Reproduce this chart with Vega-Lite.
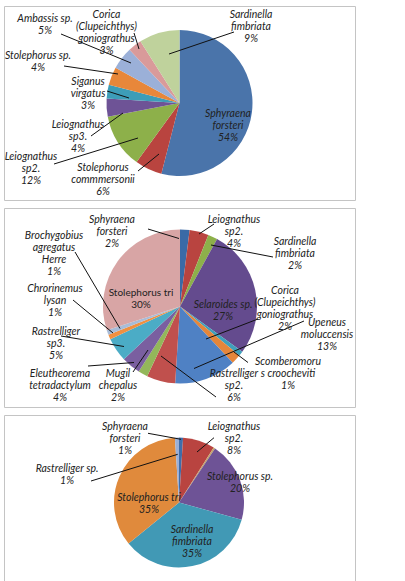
{
  "$schema": "https://vega.github.io/schema/vega-lite/v6.json",
  "background": "white",
  "padding": {"left": 3, "top": 5, "right": 0, "bottom": 0},
  "spacing": 8,
  "bounds": "flush",
  "config": {
    "view": {"stroke": "#c4c4c4", "strokeWidth": 1},
    "text": {"font": "Lato", "fontSize": 10.5, "fontStyle": "italic", "lineHeight": 12, "lineBreak": "\n", "color": "#222222", "baseline": "middle", "align": "center"},
    "rule": {"color": "#111111", "strokeWidth": 1}
  },
  "datasets": {
    "p1": [
      {"i": 1, "s": "Sphyraena forsteri", "v": 54},
      {"i": 2, "s": "Stolephorus commmersonii", "v": 6},
      {"i": 3, "s": "Leiognathus sp2.", "v": 12},
      {"i": 4, "s": "Leiognathus sp3.", "v": 4},
      {"i": 5, "s": "Siganus virgatus", "v": 3},
      {"i": 6, "s": "Stolephorus sp.", "v": 4},
      {"i": 7, "s": "Ambassis sp.", "v": 5},
      {"i": 8, "s": "Corica (Clupeichthys) goniograthus", "v": 3},
      {"i": 9, "s": "Sardinella fimbriata", "v": 9}
    ],
    "p1lab": [
      {"t": "Corica\n(Clupeichthys)\ngoniograthus\n3%", "lx": -73, "ly": 88, "x1": -45.5, "y1": 70, "x2": -40.5, "y2": 54},
      {"t": "Ambassis sp.\n5%", "lx": -134.5, "ly": 84, "x1": -118.5, "y1": 69, "x2": -48.5, "y2": 40},
      {"t": "Stolephorus sp.\n4%", "lx": -141.5, "ly": 47, "x1": -115.5, "y1": 37, "x2": -61.5, "y2": 29},
      {"t": "Siganus\nvirgatus\n3%", "lx": -91.5, "ly": 21, "x1": -72.5, "y1": 12, "x2": -50.5, "y2": 5},
      {"t": "Leiognathus\nsp3.\n4%", "lx": -101.5, "ly": -22, "x1": -88.5, "y1": -33, "x2": -56.5, "y2": -10},
      {"t": "Leiognathus\nsp2.\n12%", "lx": -148.5, "ly": -54, "x1": -125.5, "y1": -61, "x2": -41.5, "y2": -35},
      {"t": "Stolephorus\ncommmersonii\n6%", "lx": -76.5, "ly": -65, "x1": -41.5, "y1": -68, "x2": -20.5, "y2": -51},
      {"t": "Sphyraena\nforsteri\n54%", "lx": 48.5, "ly": -11, "x1": null, "y1": null, "x2": null, "y2": null},
      {"t": "Sardinella\nfimbriata\n9%", "lx": 71.5, "ly": 88, "x1": -10.5, "y1": 49, "x2": 54.5, "y2": 71}
    ],
    "p2": [
      {"i": 1, "s": "Sphyraena forsteri", "v": 2},
      {"i": 2, "s": "Leiognathus sp2.", "v": 4},
      {"i": 3, "s": "Sardinella fimbriata", "v": 2},
      {"i": 4, "s": "Selaroides sp.", "v": 27},
      {"i": 5, "s": "Scomberomorus croocheviti", "v": 1},
      {"i": 6, "s": "Corica (Clupeichthys) goniograthus", "v": 2},
      {"i": 7, "s": "Upeneus moluccensis", "v": 13},
      {"i": 8, "s": "Rastrelliger sp2.", "v": 6},
      {"i": 9, "s": "Mugil chepalus", "v": 2},
      {"i": 10, "s": "Eleutheorema tetradactylum", "v": 4},
      {"i": 11, "s": "Rastrelliger sp3.", "v": 5},
      {"i": 12, "s": "Chrorinemus lysan", "v": 1},
      {"i": 13, "s": "Brochygobius agregatus Herre", "v": 1},
      {"i": 14, "s": "Stolephorus tri", "v": 30}
    ],
    "p2lab": [
      {"t": "Sphyraena\nforsteri\n2%", "lx": -68, "ly": 86.5, "x1": -32, "y1": 77.5, "x2": -1, "y2": 68},
      {"t": "Leiognathus\nsp2.\n4%", "lx": 54, "ly": 86.5, "x1": 34, "y1": 82.5, "x2": 19, "y2": 72.5},
      {"t": "Sardinella\nfimbriata\n2%", "lx": 115, "ly": 64.5, "x1": 93, "y1": 49.5, "x2": 31, "y2": 61.5},
      {"t": "Brochygobius\nagregatus\nHerre\n1%", "lx": -126, "ly": 70.5, "x1": -105, "y1": 54.5, "x2": -60, "y2": -22},
      {"t": "Chrorinemus\nlysan\n1%", "lx": -125, "ly": 17.8, "x1": -107, "y1": 6.5, "x2": -67, "y2": -26.5},
      {"t": "Rastrelliger\nsp3.\n5%", "lx": -124, "ly": -25.5, "x1": -119, "y1": -29.5, "x2": -56, "y2": -40},
      {"t": "Eleutheorema\ntetradactylum\n4%", "lx": -120, "ly": -67.5, "x1": -92, "y1": -59.5, "x2": -46, "y2": -56},
      {"t": "Mugil\nchepalus\n2%", "lx": -62, "ly": -67.5, "x1": -47, "y1": -65.5, "x2": -32, "y2": -43.5},
      {"t": "Rastrelliger\nsp2.\n6%", "lx": 54, "ly": -67.5, "x1": -19, "y1": -49.5, "x2": 36, "y2": -90.5},
      {"t": "Scomberomoru\ns croocheviti\n1%", "lx": 108, "ly": -55.2, "x1": 68, "y1": -56, "x2": 54, "y2": -45.5},
      {"t": "Upeneus\nmoluccensis\n13%", "lx": 147, "ly": -16.2, "x1": 124, "y1": -14.5, "x2": 14, "y2": -62},
      {"t": "Corica\n(Clupeichthys)\ngoniograthus\n2%", "lx": 105, "ly": 15.5, "x1": 78, "y1": -12.5, "x2": 26, "y2": -32.5},
      {"t": "Selaroides sp.\n27%", "lx": 43, "ly": 1.2, "x1": null, "y1": null, "x2": null, "y2": null}
    ],
    "p2up": [
      {"t": "Stolephorus tri\n30%", "lx": -39, "ly": 13.8}
    ],
    "p3": [
      {"i": 1, "s": "Sphyraena forsteri", "v": 1},
      {"i": 2, "s": "Leiognathus sp2.", "v": 8},
      {"i": 3, "s": "other", "v": 0.4},
      {"i": 4, "s": "Stolephorus sp.", "v": 20},
      {"i": 5, "s": "Sardinella fimbriata", "v": 35},
      {"i": 6, "s": "Stolephorus tri", "v": 35},
      {"i": 7, "s": "Rastrelliger sp.", "v": 1}
    ],
    "p3lab": [
      {"t": "Sphyraena\nforsteri\n1%", "lx": -54, "ly": 75.8, "x1": -31, "y1": 69.2, "x2": 2, "y2": 63.2},
      {"t": "Leiognathus\nsp2.\n8%", "lx": 55, "ly": 75.8, "x1": 35, "y1": 64.8, "x2": 18, "y2": 50.5},
      {"t": "Rastrelliger sp.\n1%", "lx": -112, "ly": 33.2, "x1": -88, "y1": 21.5, "x2": -1.3, "y2": 48.2},
      {"t": "Stolephorus sp.\n20%", "lx": 61, "ly": 25.5, "x1": null, "y1": null, "x2": null, "y2": null},
      {"t": "Stolephorus tri\n35%", "lx": -30, "ly": 4.2, "x1": null, "y1": null, "x2": null, "y2": null},
      {"t": "Sardinella\nfimbriata\n35%", "lx": 13, "ly": -27.8, "x1": null, "y1": null, "x2": null, "y2": null}
    ]
  },
  "resolve": {"scale": {"color": "independent", "x": "independent", "y": "independent", "theta": "independent"}},
  "vconcat": [
    {
      "width": 351, "height": 194,
      "layer": [
        {
          "data": {"name": "p1"},
          "mark": {"type": "arc", "outerRadius": 73},
          "encoding": {
            "theta": {"field": "v", "type": "quantitative", "stack": true},
            "order": {"field": "i", "type": "quantitative"},
            "color": {"field": "s", "type": "nominal", "legend": null, "scale": {
              "domain": ["Sphyraena forsteri", "Stolephorus commmersonii", "Leiognathus sp2.", "Leiognathus sp3.", "Siganus virgatus", "Stolephorus sp.", "Ambassis sp.", "Corica (Clupeichthys) goniograthus", "Sardinella fimbriata"],
              "range": ["#4A74AA", "#B9443F", "#8DB04A", "#6E5396", "#3D9DB8", "#E8873A", "#9BB0D8", "#D99A9A", "#BFD29C"]}},
            "x": {"datum": 0, "type": "quantitative", "axis": null, "scale": {"domain": [-175.5, 175.5], "nice": false, "zero": false}},
            "y": {"datum": 0, "type": "quantitative", "axis": null, "scale": {"domain": [-97, 97], "nice": false, "zero": false}}
          }
        },
        {
          "data": {"name": "p1lab"},
          "transform": [{"filter": "isValid(datum.x1)"}],
          "mark": {"type": "rule"},
          "encoding": {
            "x": {"field": "x1", "type": "quantitative", "axis": null, "scale": {"domain": [-175.5, 175.5], "nice": false, "zero": false}},
            "y": {"field": "y1", "type": "quantitative", "axis": null, "scale": {"domain": [-97, 97], "nice": false, "zero": false}},
            "x2": {"field": "x2"},
            "y2": {"field": "y2"}
          }
        },
        {
          "data": {"name": "p1lab"},
          "mark": {"type": "text"},
          "encoding": {
            "x": {"field": "lx", "type": "quantitative", "axis": null, "scale": {"domain": [-175.5, 175.5], "nice": false, "zero": false}},
            "y": {"field": "ly", "type": "quantitative", "axis": null, "scale": {"domain": [-97, 97], "nice": false, "zero": false}},
            "text": {"field": "t"}
          }
        }
      ]
    },
    {
      "width": 351, "height": 199,
      "layer": [
        {
          "data": {"name": "p2"},
          "mark": {"type": "arc", "outerRadius": 77},
          "encoding": {
            "theta": {"field": "v", "type": "quantitative", "stack": true},
            "order": {"field": "i", "type": "quantitative"},
            "color": {"field": "s", "type": "nominal", "legend": null, "scale": {
              "domain": ["Sphyraena forsteri", "Leiognathus sp2.", "Sardinella fimbriata", "Selaroides sp.", "Scomberomorus croocheviti", "Corica (Clupeichthys) goniograthus", "Upeneus moluccensis", "Rastrelliger sp2.", "Mugil chepalus", "Eleutheorema tetradactylum", "Rastrelliger sp3.", "Chrorinemus lysan", "Brochygobius agregatus Herre", "Stolephorus tri"],
              "range": ["#3B6AA6", "#B94440", "#8DB04A", "#644B8E", "#3FA0BB", "#E5863A", "#4F81C4", "#C0504D", "#93B75A", "#7A5FA0", "#4BACC6", "#F09040", "#A8BCD8", "#D8A5A5"]}},
            "x": {"datum": 0, "type": "quantitative", "axis": null, "scale": {"domain": [-176, 175], "nice": false, "zero": false}},
            "y": {"datum": 0, "type": "quantitative", "axis": null, "scale": {"domain": [-100.5, 98.5], "nice": false, "zero": false}}
          }
        },
        {
          "data": {"name": "p2lab"},
          "transform": [{"filter": "isValid(datum.x1)"}],
          "mark": {"type": "rule"},
          "encoding": {
            "x": {"field": "x1", "type": "quantitative", "axis": null, "scale": {"domain": [-176, 175], "nice": false, "zero": false}},
            "y": {"field": "y1", "type": "quantitative", "axis": null, "scale": {"domain": [-100.5, 98.5], "nice": false, "zero": false}},
            "x2": {"field": "x2"},
            "y2": {"field": "y2"}
          }
        },
        {
          "data": {"name": "p2lab"},
          "mark": {"type": "text"},
          "encoding": {
            "x": {"field": "lx", "type": "quantitative", "axis": null, "scale": {"domain": [-176, 175], "nice": false, "zero": false}},
            "y": {"field": "ly", "type": "quantitative", "axis": null, "scale": {"domain": [-100.5, 98.5], "nice": false, "zero": false}},
            "text": {"field": "t"}
          }
        },
        {
          "data": {"name": "p2up"},
          "mark": {"type": "text", "fontStyle": "normal", "fontSize": 10},
          "encoding": {
            "x": {"field": "lx", "type": "quantitative", "axis": null, "scale": {"domain": [-176, 175], "nice": false, "zero": false}},
            "y": {"field": "ly", "type": "quantitative", "axis": null, "scale": {"domain": [-100.5, 98.5], "nice": false, "zero": false}},
            "text": {"field": "t"}
          }
        }
      ]
    },
    {
      "width": 351, "height": 168,
      "layer": [
        {
          "data": {"name": "p3"},
          "mark": {"type": "arc", "outerRadius": 65},
          "encoding": {
            "theta": {"field": "v", "type": "quantitative", "stack": true},
            "order": {"field": "i", "type": "quantitative"},
            "color": {"field": "s", "type": "nominal", "legend": null, "scale": {
              "domain": ["Sphyraena forsteri", "Leiognathus sp2.", "other", "Stolephorus sp.", "Sardinella fimbriata", "Stolephorus tri", "Rastrelliger sp."],
              "range": ["#3F6DAA", "#B94440", "#C4A46A", "#6E5396", "#4199B5", "#E08A3C", "#9BB0D8"]}},
            "x": {"datum": 0, "type": "quantitative", "axis": null, "scale": {"domain": [-175, 176], "nice": false, "zero": false}},
            "y": {"datum": 0, "type": "quantitative", "axis": null, "scale": {"domain": [-80.5, 87.5], "nice": false, "zero": false}}
          }
        },
        {
          "data": {"name": "p3lab"},
          "transform": [{"filter": "isValid(datum.x1)"}],
          "mark": {"type": "rule"},
          "encoding": {
            "x": {"field": "x1", "type": "quantitative", "axis": null, "scale": {"domain": [-175, 176], "nice": false, "zero": false}},
            "y": {"field": "y1", "type": "quantitative", "axis": null, "scale": {"domain": [-80.5, 87.5], "nice": false, "zero": false}},
            "x2": {"field": "x2"},
            "y2": {"field": "y2"}
          }
        },
        {
          "data": {"name": "p3lab"},
          "mark": {"type": "text"},
          "encoding": {
            "x": {"field": "lx", "type": "quantitative", "axis": null, "scale": {"domain": [-175, 176], "nice": false, "zero": false}},
            "y": {"field": "ly", "type": "quantitative", "axis": null, "scale": {"domain": [-80.5, 87.5], "nice": false, "zero": false}},
            "text": {"field": "t"}
          }
        }
      ]
    }
  ]
}
